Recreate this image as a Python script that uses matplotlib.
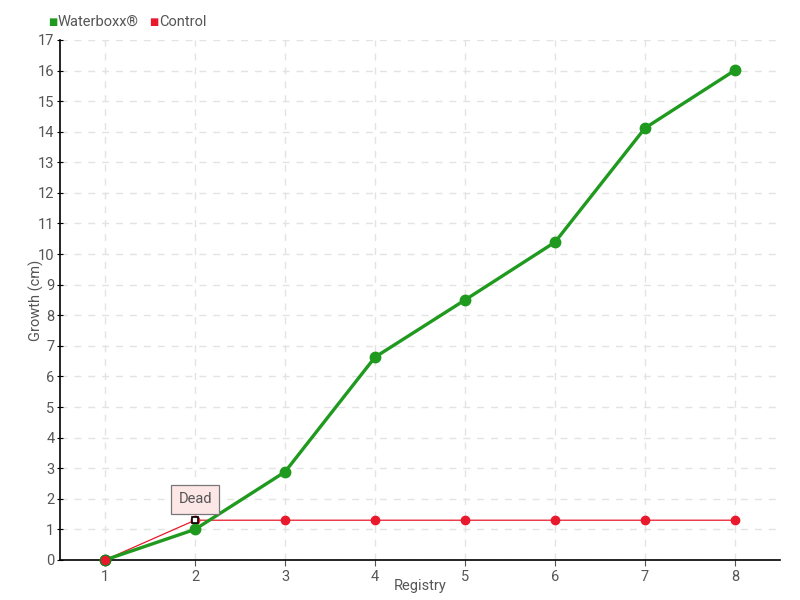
import matplotlib.pyplot as plt

# Data
registry = [1, 2, 3, 4, 5, 6, 7, 8]
waterboxx = [0, 1.0, 2.88, 6.63, 8.5, 10.39, 14.12, 16.01]
control = [0, 1.3, 1.3, 1.3, 1.3, 1.3, 1.3, 1.3]
y_ticks = list(range(0, 18))

plt.rcParams["font.family"] = ["Roboto", "DejaVu Sans"]

green = "#1f9a1f"
red = "#e8192c"
grey = "#555555"

fig = plt.figure(figsize=(8, 6), dpi=100)
ax = fig.add_axes([0.075, 0.0667, 0.9, 0.8667])

ax.plot(registry, control, color=red, lw=0.9, marker="o", ms=6, zorder=3, clip_on=False)
ax.plot(registry, waterboxx, color=green, lw=2.4, marker="o", ms=7.5, zorder=4, clip_on=False)
# first control point sits on top of the green one
ax.plot(registry[0], control[0], "o", color=red, mec="#1f7a1f", mew=0.8, ms=7.5,
        zorder=5, clip_on=False)
# dead marker
ax.plot(registry[1], control[1], "s", mfc="white", mec="black", ms=5, mew=1.2, zorder=6)
ax.annotate("Dead", xy=(registry[1], control[1]), xytext=(0, 15),
            textcoords="offset points", ha="center", va="center",
            fontsize=10.5, color=grey,
            bbox=dict(boxstyle="square,pad=0.5", fc="#fde6e6", ec="#777777", lw=0.9),
            zorder=7)

ax.set_xlim(0.5, 8.5)
ax.set_ylim(0, 17)
ax.set_xticks(registry)
ax.set_yticks(y_ticks)
ax.tick_params(colors=grey, labelsize=10.5, length=4)
ax.tick_params(axis="y", direction="inout", color="black", pad=2)
ax.tick_params(axis="x", color=grey)
ax.grid(True, ls=(0, (5, 5)), color="#e3e3e3", lw=1)
ax.set_axisbelow(True)
for s in ["top", "right"]:
    ax.spines[s].set_visible(False)
for s in ["left", "bottom"]:
    ax.spines[s].set_color("black")
    ax.spines[s].set_linewidth(1.2)

ax.set_xlabel("Registry", color=grey, fontsize=10.5, labelpad=-4)
ax.set_ylabel("Growth (cm)", color=grey, fontsize=10.5, labelpad=-4)

# legend in the top left corner, items placed one after another
legend_items = [("Waterboxx®", green), ("Control", red)]
fig.canvas.draw()
renderer = fig.canvas.get_renderer()
x = 48
for label, col in legend_items:
    fig.text(x / 800, 1 - 22 / 600, "■", color=col, fontsize=7, va="center",
             family="DejaVu Sans")
    t = fig.text((x + 10) / 800, 1 - 22 / 600, label, color=grey, fontsize=10.5,
                 va="center")
    w = t.get_window_extent(renderer).width
    x += 10 + w + 10

fig.savefig("out.png", dpi=100)
